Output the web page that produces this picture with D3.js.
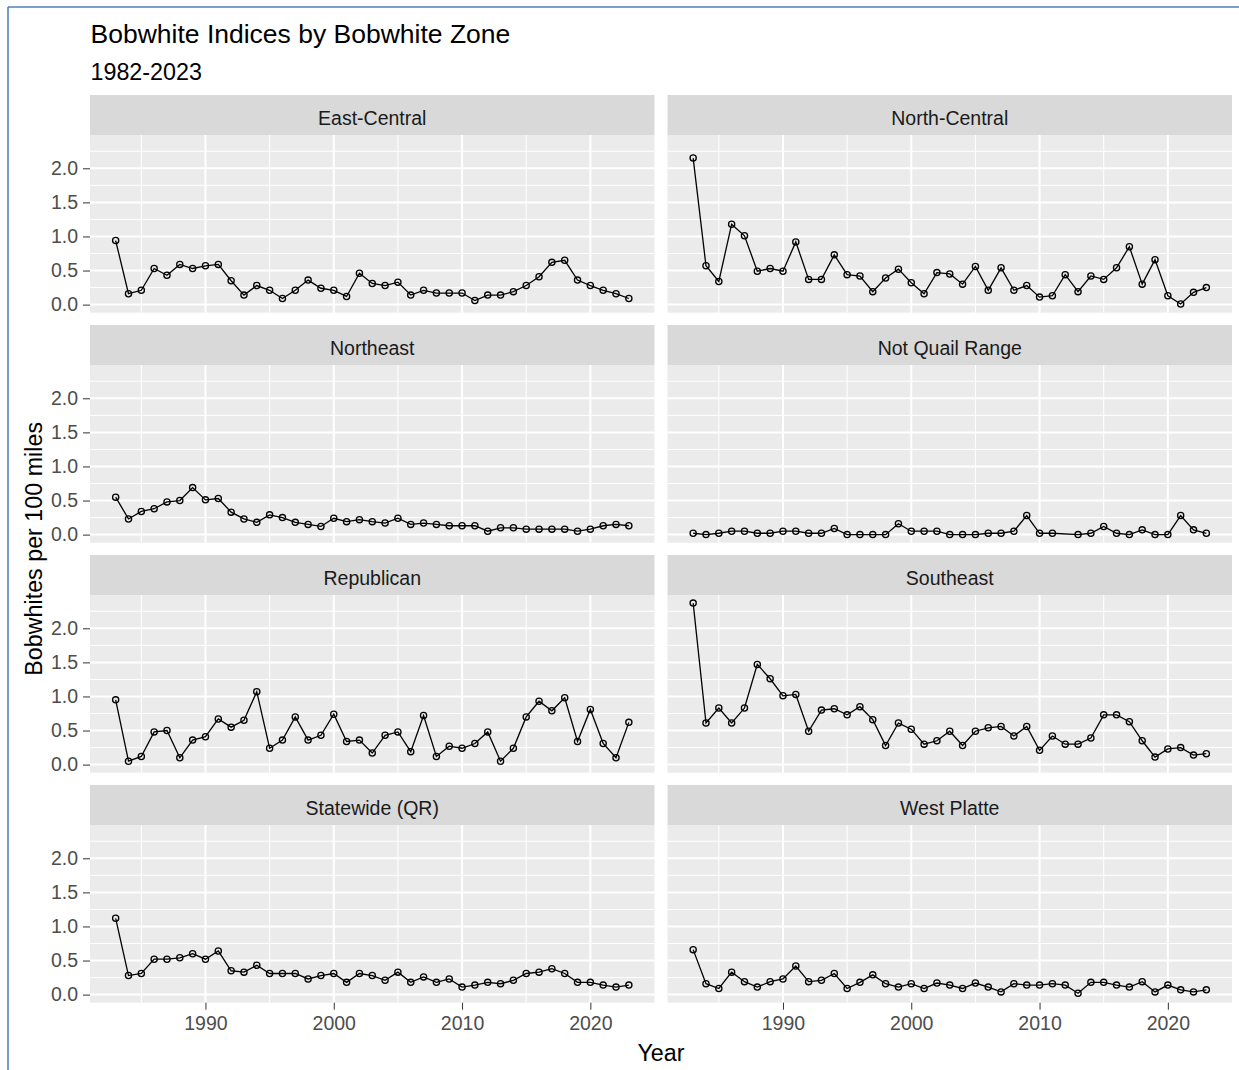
<!DOCTYPE html>
<html>
<head>
<meta charset="utf-8">
<script src="https://cdn.jsdelivr.net/npm/d3@7"></script>
<style>
  body { margin: 0; background: #fff; }
  text { font-family: "Liberation Sans", Arial, Helvetica, sans-serif; }
</style>
</head>
<body>
<div id="chart"></div>
<script>
// ---- data ----
const years = [1983,1984,1985,1986,1987,1988,1989,1990,1991,1992,
  1993,1994,1995,1996,1997,1998,1999,2000,2001,2002,
  2003,2004,2005,2006,2007,2008,2009,2010,2011,2012,
  2013,2014,2015,2016,2017,2018,2019,2020,2021,2022,2023];

const zones = ["East-Central", "North-Central", "Northeast", "Not Quail Range",
  "Republican", "Southeast", "Statewide (QR)", "West Platte"];

const eastCentral = [0.94,0.16,0.21,0.53,0.43,0.59,0.53,0.57,0.59,0.35,
  0.14,0.28,0.21,0.09,0.21,0.36,0.24,0.21,0.12,0.46,
  0.31,0.28,0.33,0.14,0.21,0.17,0.17,0.17,0.06,0.14,
  0.14,0.19,0.28,0.41,0.62,0.65,0.36,0.28,0.21,0.16,0.09];
const northCentral = [2.15,0.57,0.34,1.18,1.01,0.49,0.53,0.49,0.92,0.37,
  0.37,0.73,0.44,0.42,0.19,0.39,0.52,0.32,0.16,0.47,
  0.45,0.30,0.56,0.21,0.54,0.21,0.28,0.11,0.13,0.44,
  0.19,0.42,0.37,0.54,0.85,0.30,0.66,0.13,0.01,0.18,0.25];
const northeast = [0.55,0.23,0.34,0.38,0.48,0.50,0.69,0.51,0.53,0.33,
  0.23,0.18,0.29,0.25,0.18,0.15,0.12,0.24,0.19,0.22,
  0.19,0.17,0.24,0.15,0.17,0.15,0.13,0.13,0.13,0.05,
  0.10,0.10,0.08,0.08,0.08,0.08,0.05,0.08,0.13,0.15,0.13];
const notQuailRange = [0.02,0,0.02,0.05,0.05,0.02,0.02,0.05,0.05,0.02,
  0.02,0.09,0,0,0,0,0.16,0.05,0.05,0.05,
  0,0,0,0.02,0.02,0.05,0.28,0.02,0.02,null,
  0,0.02,0.12,0.02,0,0.07,0,0,0.28,0.07,0.02];
const republican = [0.95,0.05,0.12,0.48,0.50,0.10,0.36,0.41,0.67,0.55,
  0.65,1.07,0.24,0.36,0.70,0.36,0.43,0.74,0.34,0.36,
  0.17,0.43,0.48,0.19,0.72,0.12,0.27,0.24,0.31,0.48,
  0.05,0.24,0.70,0.93,0.79,0.98,0.34,0.81,0.31,0.10,0.62];
const southeast = [2.37,0.61,0.83,0.61,0.83,1.47,1.26,1.01,1.03,0.49,
  0.80,0.82,0.73,0.85,0.66,0.28,0.61,0.52,0.30,0.35,
  0.49,0.28,0.49,0.54,0.56,0.42,0.56,0.21,0.42,0.30,
  0.30,0.39,0.73,0.73,0.63,0.35,0.11,0.23,0.25,0.14,0.16];
const statewide = [1.12,0.28,0.31,0.52,0.52,0.54,0.60,0.52,0.64,0.35,
  0.33,0.43,0.31,0.31,0.31,0.23,0.28,0.31,0.18,0.31,
  0.28,0.21,0.33,0.18,0.26,0.18,0.23,0.11,0.14,0.18,
  0.16,0.21,0.31,0.33,0.38,0.31,0.18,0.18,0.14,0.11,0.14];
const westPlatte = [0.66,0.16,0.09,0.33,0.19,0.11,0.19,0.23,0.42,0.19,
  0.21,0.31,0.09,0.18,0.29,0.16,0.11,0.16,0.09,0.17,
  0.14,0.09,0.17,0.11,0.04,0.16,0.14,0.14,0.16,0.14,
  0.02,0.18,0.18,0.14,0.11,0.19,0.04,0.14,0.07,0.04,0.07];

const xTicks = [1990, 2000, 2010, 2020];
const xMinor = [1985, 1995, 2005, 2015];
const yTicks = [0, 0.5, 1.0, 1.5, 2.0];
const yMinor = [0.25, 0.75, 1.25, 1.75, 2.25];

const seriesByZone = [eastCentral, northCentral, northeast, notQuailRange,
  republican, southeast, statewide, westPlatte];

// ---- layout ----
const width = 1239, height = 1070;
const colLeft = [90, 667.5];
const panelW = 564.5;
const rowTop = [95, 325, 555, 785];
const stripH = 40;
const panelH = 177.7;

const svg = d3.select('#chart').append('svg')
    .attr('width', width)
    .attr('height', height);

svg.append('rect').attr('width', width).attr('height', height).attr('fill', '#fff');

// frame lines from the screenshot
svg.append('line').attr('x1', 8).attr('x2', 8).attr('y1', 7).attr('y2', height)
  .attr('stroke', '#4f81bd').attr('stroke-width', 1.6);
svg.append('line').attr('x1', 8).attr('x2', width).attr('y1', 7).attr('y2', 7)
  .attr('stroke', '#4f81bd').attr('stroke-width', 1.6);

// shared scales, ggplot-style 5% expansion
const allVals = seriesByZone.flat().filter(v => v != null);
const [yLo, yHi] = d3.extent(allVals);
const yPad = (yHi - yLo) * 0.05;
const [xLo, xHi] = d3.extent(years);
const xPad = (xHi - xLo) * 0.05;

const x = d3.scaleLinear().domain([xLo - xPad, xHi + xPad]).range([0, panelW]);
const y = d3.scaleLinear().domain([yLo - yPad, yHi + yPad]).range([panelH, 0]);

const line = d3.line()
  .x(d => x(d.year))
  .y(d => y(d.value));

zones.forEach((zone, i) => {
  const col = i % 2, row = Math.floor(i / 2);
  const g = svg.append('g')
    .attr('transform', `translate(${colLeft[col]},${rowTop[row]})`);

  // strip
  g.append('rect').attr('width', panelW).attr('height', stripH).attr('fill', '#d9d9d9');
  g.append('text')
    .attr('x', panelW / 2).attr('y', 30)
    .attr('text-anchor', 'middle')
    .attr('font-size', 19.5)
    .attr('fill', '#1a1a1a')
    .text(zone);

  const p = g.append('g').attr('transform', `translate(0,${stripH})`);
  p.append('rect').attr('width', panelW).attr('height', panelH).attr('fill', '#ebebeb');

  // grid
  p.selectAll('.ymin').data(yMinor).enter().append('line')
    .attr('x1', 0).attr('x2', panelW)
    .attr('y1', d => y(d)).attr('y2', d => y(d))
    .attr('stroke', '#fff').attr('stroke-width', 1);
  p.selectAll('.xmin').data(xMinor).enter().append('line')
    .attr('y1', 0).attr('y2', panelH)
    .attr('x1', d => x(d)).attr('x2', d => x(d))
    .attr('stroke', '#fff').attr('stroke-width', 1);
  p.selectAll('.ymaj').data(yTicks).enter().append('line')
    .attr('x1', 0).attr('x2', panelW)
    .attr('y1', d => y(d)).attr('y2', d => y(d))
    .attr('stroke', '#fff').attr('stroke-width', 2);
  p.selectAll('.xmaj').data(xTicks).enter().append('line')
    .attr('y1', 0).attr('y2', panelH)
    .attr('x1', d => x(d)).attr('x2', d => x(d))
    .attr('stroke', '#fff').attr('stroke-width', 2);

  // data
  const pts = years.map((yr, k) => ({ year: yr, value: seriesByZone[i][k] }))
    .filter(d => d.value != null);

  p.append('path')
    .datum(pts)
    .attr('d', line)
    .attr('fill', 'none')
    .attr('stroke', '#000')
    .attr('stroke-width', 1.3);

  p.selectAll('circle').data(pts).enter().append('circle')
    .attr('cx', d => x(d.year))
    .attr('cy', d => y(d.value))
    .attr('r', 3.1)
    .attr('fill', 'none')
    .attr('stroke', '#000')
    .attr('stroke-width', 1.3);

  // y axis on left column
  if (col === 0) {
    const ya = p.append('g')
      .call(d3.axisLeft(y).tickValues(yTicks).tickFormat(d3.format('.1f')).tickSize(7).tickPadding(5));
    ya.select('.domain').remove();
    ya.selectAll('line').attr('stroke', '#333').attr('stroke-width', 1);
    ya.selectAll('text').attr('font-size', 19.5).attr('fill', '#4d4d4d')
      .attr('font-family', '"Liberation Sans", Arial, sans-serif');
  }
  // x axis on bottom row
  if (row === 3) {
    const xa = p.append('g')
      .attr('transform', `translate(0,${panelH})`)
      .call(d3.axisBottom(x).tickValues(xTicks).tickFormat(d3.format('d')).tickSize(7).tickPadding(6));
    xa.select('.domain').remove();
    xa.selectAll('line').attr('stroke', '#333').attr('stroke-width', 1);
    xa.selectAll('text').attr('font-size', 19.5).attr('fill', '#4d4d4d')
      .attr('font-family', '"Liberation Sans", Arial, sans-serif');
  }
});

// titles
svg.append('text').attr('x', 90.5).attr('y', 42.7)
  .attr('font-size', 26.5).attr('fill', '#000')
  .text('Bobwhite Indices by Bobwhite Zone');
svg.append('text').attr('x', 90.5).attr('y', 80)
  .attr('font-size', 23.3).attr('fill', '#000')
  .text('1982-2023');
svg.append('text').attr('x', (colLeft[0] + colLeft[1] + panelW) / 2).attr('y', 1060.5)
  .attr('text-anchor', 'middle')
  .attr('font-size', 23.3).attr('fill', '#000')
  .text('Year');
svg.append('text')
  .attr('transform', `translate(42,${(rowTop[0] + rowTop[3] + stripH + panelH) / 2}) rotate(-90)`)
  .attr('text-anchor', 'middle')
  .attr('font-size', 23.3).attr('fill', '#000')
  .text('Bobwhites per 100 miles');
</script>
</body>
</html>
